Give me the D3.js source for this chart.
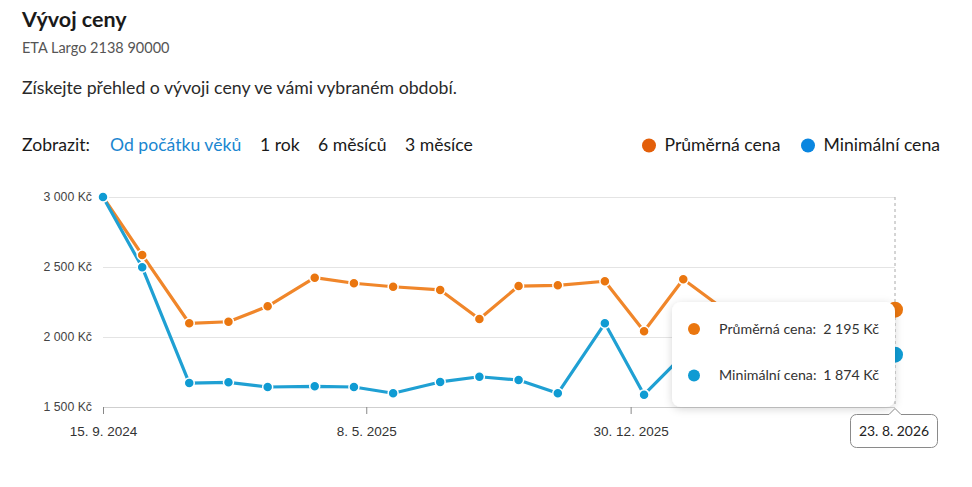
<!DOCTYPE html>
<html><head><meta charset="utf-8">
<script src="https://cdn.jsdelivr.net/npm/d3@7"></script>
<style>
html,body{margin:0;padding:0;background:#fff;}
svg{display:block;font-family:"Source Sans Pro","Lato","Open Sans",sans-serif;}
</style></head><body>
<svg id="c" width="972" height="487"></svg>
<script>
const dates = ["2024-09-15","2024-10-20","2024-12-01","2025-01-05","2025-02-09","2025-03-23","2025-04-27","2025-06-01","2025-07-13","2025-08-17","2025-09-21","2025-10-26","2025-12-07","2026-01-11","2026-02-15","2026-03-22","2026-04-26","2026-05-31","2026-07-12","2026-08-23"];
const avgPrice = [3000,2586,2098,2109,2219,2424,2384,2359,2336,2129,2364,2369,2398,2041,2412,2205,2170,2160,2180,2195];
const minPrice = [3000,2498,1671,1676,1643,1648,1643,1598,1679,1716,1693,1598,2098,1588,1871,1880,1862,1868,1874,1874];
const seriesNames = ["Průměrná cena","Minimální cena"];
const yTicks = [1500,2000,2500,3000];
const xTickDates = ["2024-09-15","2025-05-08","2025-12-30"];
const xTickLabels = ["15. 9. 2024","8. 5. 2025","30. 12. 2025"];
const rangeOptions = ["Od počátku věků","1 rok","6 měsíců","3 měsíce"];
const hoverIndex = 19;
const hoverDateLabel = "23. 8. 2026";

const parse = d3.timeParse("%Y-%m-%d");
const svg = d3.select("#c");
const fmtNum = v => d3.format(",")(v).replace(/,/g, " ");

// header
svg.append("text").attr("x",22).attr("y",27).attr("font-size",21.5).attr("font-weight",700).attr("fill","#1a1a1a").text("Vývoj ceny");
svg.append("text").attr("x",22).attr("y",53).attr("font-size",14.5).attr("fill","#555").text("ETA Largo 2138 90000");
svg.append("text").attr("x",22).attr("y",94).attr("font-size",17.7).attr("fill","#2a2a2a").text("Získejte přehled o vývoji ceny ve vámi vybraném období.");
svg.append("text").attr("x",22).attr("y",151).attr("font-size",17.6).attr("fill","#1a1a1a").text("Zobrazit:");
const optX = [110,260,318,405];
rangeOptions.forEach((t,i)=>{
  svg.append("text").attr("x",optX[i]).attr("y",151).attr("font-size",17.6)
    .attr("fill", i===0 ? "#1a86d0" : "#1a1a1a").text(t);
});
// legend
const legendColors = ["#e35f0a","#0a86e0"];
const legX = [649,808];
seriesNames.forEach((n,i)=>{
  svg.append("circle").attr("cx",legX[i]).attr("cy",145.5).attr("r",7).attr("fill",legendColors[i]);
  svg.append("text").attr("x",legX[i]+15.5).attr("y",151).attr("font-size",17.6).attr("fill","#1a1a1a").text(n);
});

// chart
const x = d3.scaleTime().domain([parse(dates[0]), parse(dates[dates.length-1])]).range([103,895]);
const y = d3.scaleLinear().domain([1500,3000]).range([407,197]);

// grid
const grid = svg.append("g").attr("transform","translate(103,0)")
  .call(d3.axisLeft(y).tickValues(yTicks).tickSize(-792).tickFormat(""));
grid.select(".domain").remove();
grid.selectAll(".tick line").attr("stroke", d => d===1500 ? "#cfcfcf" : "#e4e4e4");

// y labels
const ya = svg.append("g").attr("transform","translate(92,0)")
  .call(d3.axisLeft(y).tickValues(yTicks).tickSize(0).tickPadding(0).tickFormat(d => fmtNum(d)+" Kč"));
ya.select(".domain").remove();
ya.selectAll("text").attr("font-family","inherit").attr("font-size",12.3).attr("fill","#444");

// x axis
const xa = svg.append("g").attr("transform","translate(0,407)")
  .call(d3.axisBottom(x).tickValues(xTickDates.map(parse)).tickSize(7).tickPadding(12)
    .tickFormat((d,i)=>xTickLabels[i]));
xa.select(".domain").remove();
xa.selectAll(".tick line").attr("stroke","#888");
xa.selectAll("text").attr("font-family","inherit").attr("font-size",13.5).attr("fill","#333");

// hover dashed line
svg.append("line").attr("x1",x(parse(dates[hoverIndex]))).attr("x2",x(parse(dates[hoverIndex])))
  .attr("y1",y(3000)).attr("y2",y(1500)).attr("stroke","#aaa").attr("stroke-dasharray","3,3");

const lineColors = ["#f0862a","#1fa0d3"];
const dotColors = ["#ea760f","#0f9bd3"];
const seriesVals = [avgPrice, minPrice];
const line = d3.line().x((d,i)=>x(parse(dates[i]))).y(d=>y(d));
seriesVals.forEach((vals,s)=>{
  svg.append("path").datum(vals).attr("d",line).attr("fill","none")
    .attr("stroke",lineColors[s]).attr("stroke-width",3.2).attr("stroke-linejoin","round");
});
seriesVals.forEach((vals,s)=>{
  svg.append("g").selectAll("circle").data(vals.slice(0,hoverIndex)).join("circle")
    .attr("cx",(d,i)=>x(parse(dates[i]))).attr("cy",d=>y(d)).attr("r",5)
    .attr("fill",dotColors[s]).attr("stroke","#fff").attr("stroke-width",1.5);
});
// hover dots
seriesVals.forEach((vals,s)=>{
  svg.append("circle").attr("cx",x(parse(dates[hoverIndex]))).attr("cy",y(vals[hoverIndex])).attr("r",8)
    .attr("fill",dotColors[s]);
});

// tooltip
const defs = svg.append("defs");
const f = defs.append("filter").attr("id","sh").attr("x","-20%").attr("y","-20%").attr("width","140%").attr("height","150%");
f.append("feDropShadow").attr("dx",0).attr("dy",2).attr("stdDeviation",4).attr("flood-color","#000").attr("flood-opacity",0.16);
const tip = svg.append("g");
tip.append("rect").attr("x",672).attr("y",302).attr("width",223).attr("height",105).attr("rx",9)
  .attr("fill","#fff").attr("filter","url(#sh)");
const rowY = [329,375.5];
seriesNames.forEach((n,i)=>{
  tip.append("circle").attr("cx",694).attr("cy",rowY[i]).attr("r",6).attr("fill",dotColors[i]);
  tip.append("text").attr("x",719).attr("y",rowY[i]+4.8).attr("font-size",14.2).attr("fill","#333").text(n+":");
  tip.append("text").attr("x",879).attr("y",rowY[i]+4.8).attr("font-size",14.2).attr("fill","#333")
    .attr("text-anchor","end").text(fmtNum(seriesVals[i][hoverIndex])+" Kč");
});

// date label box with notch
const hx = x(parse(dates[hoverIndex]));
const bx0 = 850.5, bx1 = 937.5, by0 = 414.5, by1 = 447.5, r = 6;
const p = d3.path();
p.moveTo(bx0+r,by0);
p.lineTo(hx-6,by0); p.lineTo(hx,by0-6); p.lineTo(hx+6,by0);
p.lineTo(bx1-r,by0); p.arcTo(bx1,by0,bx1,by0+r,r);
p.lineTo(bx1,by1-r); p.arcTo(bx1,by1,bx1-r,by1,r);
p.lineTo(bx0+r,by1); p.arcTo(bx0,by1,bx0,by1-r,r);
p.lineTo(bx0,by0+r); p.arcTo(bx0,by0,bx0+r,by0,r);
p.closePath();
svg.append("path").attr("d",p.toString()).attr("fill","#fff").attr("stroke","#8a8a8a").attr("stroke-width",1);
svg.append("text").attr("x",(bx0+bx1)/2).attr("y",436).attr("text-anchor","middle").attr("font-size",13.9).attr("fill","#222").text(hoverDateLabel);
</script>
</body></html>
